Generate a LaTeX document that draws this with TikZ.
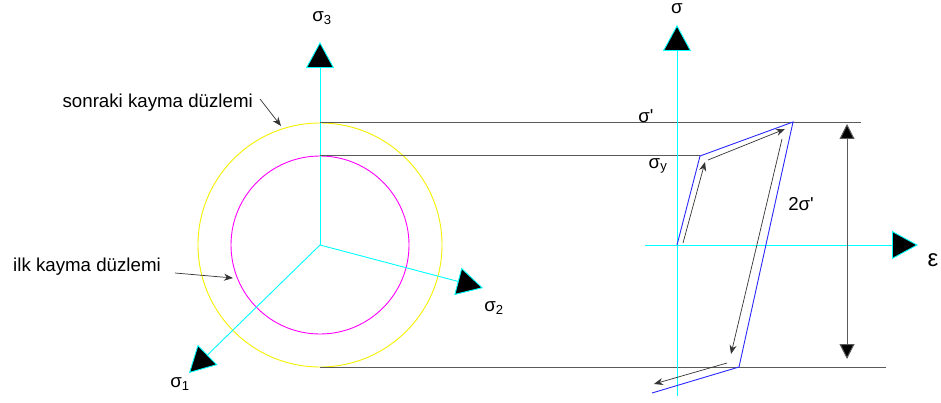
\documentclass[tikz,border=0pt]{standalone}
\usepackage{fontspec}
\setmainfont{Liberation Sans}
\usetikzlibrary{arrows.meta}
\definecolor{axcyan}{RGB}{0,255,255}
\definecolor{ylw}{RGB}{245,240,0}
\definecolor{mgt}{RGB}{255,0,255}
\definecolor{blu}{RGB}{40,40,255}
\definecolor{gln}{RGB}{90,90,90}
\begin{document}
\begin{tikzpicture}[x=1pt,y=-1pt,
  font=\fontsize{18.7}{22}\selectfont,
  axisarrow/.style={draw=axcyan, line width=0.9pt, -{Triangle[length=26pt,width=28pt,fill=black]}},
  guide/.style={draw=gln, line width=1pt},
  pathline/.style={draw=blu, line width=0.9pt},
  flow/.style={draw=black!80, line width=0.7pt, -{Stealth[length=9pt,width=7pt]}},
  dimarrow/.style={draw=gln, line width=1pt, {Triangle[length=15pt,width=15pt,fill=black]}-{Triangle[length=15pt,width=15pt,fill=black]}},
  lbl/.style={inner sep=0pt}]
\useasboundingbox (0,0) rectangle (941,403);
% left diagram
\coordinate (O) at (320,245);
\coordinate (T3) at (320,42);
\coordinate (T2) at (483,288);
\coordinate (T1) at (189,373);
\draw[ylw, line width=0.9pt] (O) circle[radius=122];
\draw[mgt, line width=0.9pt] (O) circle[radius=89];
\draw[axisarrow] (O) -- (T3);
\draw[axisarrow] (O) -- (T2);
\draw[axisarrow] (O) -- (T1);
\node[lbl] (s3) at (322,18) {σ\textsubscript{3}};
\node[lbl] (s2) at (494,308) {σ\textsubscript{2}};
\node[lbl] (s1) at (180,384) {σ\textsubscript{1}};
\node[lbl, anchor=east] (sonraki) at (253,103) {sonraki kayma düzlemi};
\node[lbl, anchor=east] (ilk) at (161,267) {ilk kayma düzlemi};
\coordinate (a1s) at (260,99);
\coordinate (a1e) at (281,126);
\coordinate (a2s) at (175,273);
\coordinate (a2e) at (233,278);
\draw[flow] (a1s) -- (a1e);
\draw[flow] (a2s) -- (a2e);
% guide lines
\coordinate (Y1) at (320,123);
\coordinate (Y1e) at (861,123);
\coordinate (M1) at (320,156);
\coordinate (M1e) at (700,156);
\coordinate (Y2) at (320,367);
\coordinate (Y2e) at (886,367);
\draw[guide] (Y1) -- (Y1e);
\draw[guide] (M1) -- (M1e);
\draw[guide] (Y2) -- (Y2e);
% right diagram axes
\coordinate (Sb) at (677,396);
\coordinate (St) at (677,25);
\coordinate (Eb) at (645,245);
\coordinate (Et) at (918,245);
\draw[axisarrow] (Sb) -- (St);
\draw[axisarrow] (Eb) -- (Et);
\node[lbl] (sig) at (677,9) {σ};
\node[lbl, font=\fontsize{24}{26}\selectfont] (eps) at (933,260) {ε};
% stress-strain path
\coordinate (P0) at (677,245);
\coordinate (P1) at (700,156);
\coordinate (P2) at (793,122);
\coordinate (P3) at (739,367);
\coordinate (P4) at (652,393);
\draw[pathline] (P0) -- (P1) -- (P2) -- (P3) -- (P4);
\coordinate (f1s) at (683,243);
\coordinate (f1e) at (705,162);
\coordinate (f2s) at (708,160);
\coordinate (f2e) at (785,129);
\coordinate (f3s) at (782,139);
\coordinate (f3e) at (731,354);
\coordinate (f4s) at (727,363);
\coordinate (f4e) at (654,384);
\draw[flow] (f1s) -- (f1e);
\draw[flow] (f2s) -- (f2e);
\draw[flow] (f3s) -- (f3e);
\draw[flow] (f4s) -- (f4e);
\node[lbl] (sp) at (646,116) {σ\textquotesingle};
\node[lbl] (sy) at (658,166) {σ\textsubscript{y}};
\node[lbl] (s2p) at (801,204) {2σ\textquotesingle};
% amplitude arrow
\coordinate (D1) at (847,124);
\coordinate (D2) at (847,359);
\draw[dimarrow] (D1) -- (D2);
\end{tikzpicture}
\end{document}
